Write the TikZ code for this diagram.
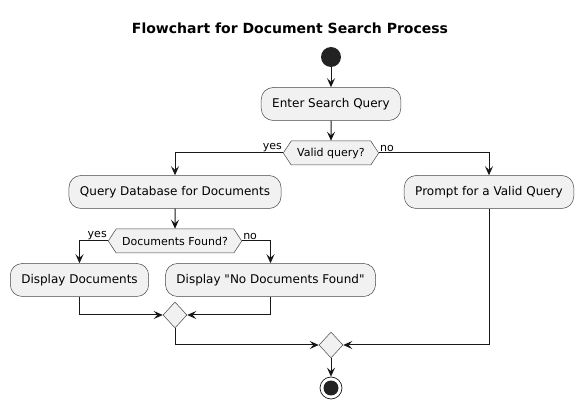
\documentclass[tikz,border=0pt]{standalone}
\usepackage{fontspec}
\setmainfont{DejaVu Sans}
\usetikzlibrary{shapes.geometric, shapes.symbols, positioning, arrows.meta}

\definecolor{boxfill}{HTML}{F1F1F1}
\definecolor{ink}{HTML}{181818}
\definecolor{dot}{HTML}{222222}

\begin{document}
\begin{tikzpicture}[x=1pt, y=1pt, node distance=39pt,
    >={Stealth[length=9pt, width=8pt, inset=3.5pt]}]
        \tikzstyle{act}=[draw=ink!80, line width=0.5pt, fill=boxfill, rectangle, rounded corners=12pt,
          minimum height=33pt, inner xsep=11pt, font=\fontsize{12}{14}\selectfont];
        \tikzstyle{cond}=[draw=ink!80, line width=0.5pt, fill=boxfill, signal, signal to=west and east,
          signal pointer angle=113, minimum height=24pt, inner xsep=6pt, inner ysep=0pt,
          font=\fontsize{11}{13}\selectfont];
        \tikzstyle{merge}=[draw=ink!80, line width=0.5pt, fill=boxfill, diamond, inner sep=0pt,
          minimum width=24pt, minimum height=26pt];
        \tikzstyle{lbl}=[inner sep=1pt, font=\fontsize{11}{13}\selectfont];
        \tikzstyle{flow}=[->, draw=ink, line width=1pt];

        \useasboundingbox (0,0) rectangle (582,-409);
        \node[font=\fontsize{14}{16}\selectfont\bfseries] (title) at (290,-28) {Flowchart for Document Search Process};
        \node[circle, fill=dot, minimum size=20pt, inner sep=0pt] (start) at (331,-57) {};
        \node[act, below of=start, node distance=47pt] (enter) {Enter Search Query};
        \node[cond, below of=enter, node distance=49pt] (valid) {Valid query?};
        \node[act, below of=valid, xshift=-156pt] (query) {Query Database for Documents};
        \node[act, below of=valid, xshift=158pt] (prompt) {Prompt for a Valid Query};
        \node[cond, below of=query, node distance=49pt] (found) {Documents Found?};
        \node[act, below of=found, xshift=-95.5pt] (dispdocs) {Display Documents};
        \node[act, below of=found, xshift=95.5pt] (nodocs) {Display \textquotedbl No Documents Found\textquotedbl};
        \node[merge, below of=found, node distance=74pt] (mergefound) {};
        \node[merge, below of=valid, node distance=192pt] (mergevalid) {};
        \node[circle, draw=ink, line width=0.7pt, fill=white, minimum size=22pt, inner sep=0pt,
          below of=mergevalid, node distance=43pt,
          path picture={\fill[dot] (path picture bounding box.center) circle (7.5pt);}] (stop) {};

        \node[lbl, anchor=south east] at (valid.west) {yes};
        \node[lbl, anchor=south west] at (valid.east) {no};
        \node[lbl, anchor=south east] at (found.west) {yes};
        \node[lbl, anchor=south west] at (found.east) {no};

        \path[flow]
        (start) edge (enter)
        (enter) edge (valid)
        (query) edge (found)
        (mergevalid) edge (stop);
        \draw[flow] (valid.west) -| (query.north);
        \draw[flow] (valid.east) -| (prompt.north);
        \draw[flow] (found.west) -| (dispdocs.north);
        \draw[flow] (found.east) -| (nodocs.north);
        \draw[flow] (dispdocs.south) |- (mergefound.west);
        \draw[flow] (nodocs.south) |- (mergefound.east);
        \draw[flow] (mergefound.south) |- (mergevalid.west);
        \draw[flow] (prompt.south) |- (mergevalid.east);
      \end{tikzpicture}
\end{document}
